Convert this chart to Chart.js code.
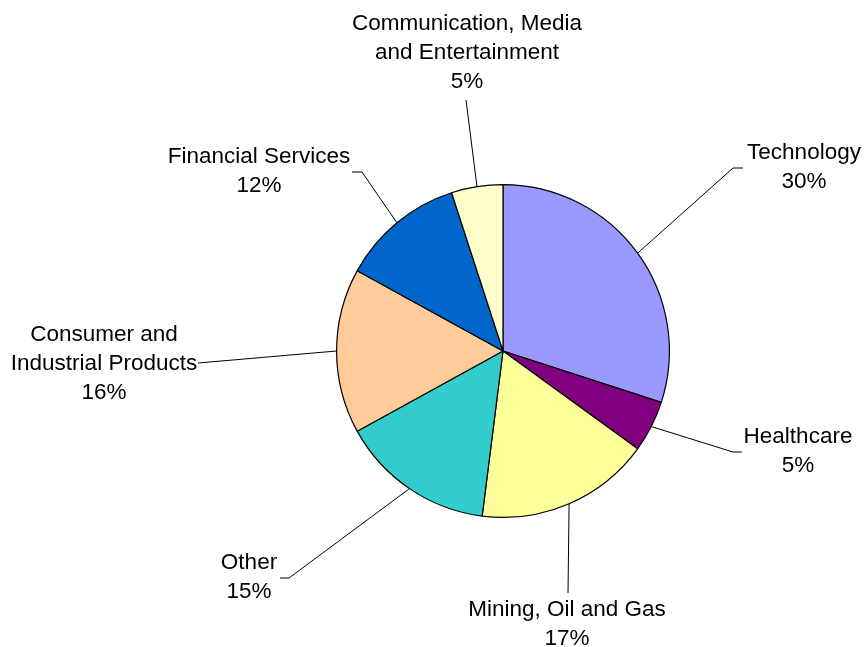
<!DOCTYPE html>
<html>
<head>
<meta charset="utf-8">
<script src="https://cdn.jsdelivr.net/npm/chart.js@4.4.0/dist/chart.umd.min.js"></script>
<style>
  html, body { margin: 0; padding: 0; background: #ffffff; }
  #wrap { width: 866px; height: 647px; }
</style>
</head>
<body>
<div id="wrap"><canvas id="c" width="866" height="647"></canvas></div>
<script>
// Sector breakdown (percent of total)
const categories = [
  'Technology',
  'Healthcare',
  'Mining, Oil and Gas',
  'Other',
  'Consumer and Industrial Products',
  'Financial Services',
  'Communication, Media and Entertainment'
];
const shares = [30, 5, 17, 15, 16, 12, 5];
const labelLines = [
  ['Technology'],
  ['Healthcare'],
  ['Mining, Oil and Gas'],
  ['Other'],
  ['Consumer and', 'Industrial Products'],
  ['Financial Services'],
  ['Communication, Media', 'and Entertainment']
];
const sliceColors = ['#9999FF', '#800080', '#FFFF99', '#33CCCC', '#FFCC99', '#0066CC', '#FFFFCC'];

// Callout layout, offsets from the pie centre:
// elbow = where the leader line bends, tail = end of the short horizontal stub,
// text = centre of the first text line.
const callouts = [
  { elbow: [230, -183], tail: [240, -183], text: [301, -198] },
  { elbow: [230, 101],  tail: [239, 101],  text: [295, 86] },
  { elbow: [65, 242],   tail: null,        text: [64, 259] },
  { elbow: [-214, 227], tail: [-223, 227], text: [-254, 212] },
  { elbow: [-305, 12],  tail: null,        text: [-399, -16] },
  { elbow: [-141, -179], tail: [-151, -179], text: [-244, -194] },
  { elbow: [-37, -251], tail: null,        text: [-36, -327] }
];

const calloutPlugin = {
  id: 'callouts',
  afterDatasetsDraw(chart) {
    const ctx = chart.ctx;
    const meta = chart.getDatasetMeta(0);
    const total = shares.reduce((a, b) => a + b, 0);
    ctx.save();
    ctx.strokeStyle = '#000000';
    ctx.lineWidth = 1;
    ctx.fillStyle = '#000000';
    ctx.font = '22.5px "Liberation Sans", Arial, sans-serif';
    ctx.textAlign = 'center';
    ctx.textBaseline = 'middle';
    meta.data.forEach((arc, i) => {
      const p = arc.getProps(['x', 'y', 'startAngle', 'endAngle', 'outerRadius'], true);
      const mid = (p.startAngle + p.endAngle) / 2;
      const sx = p.x + Math.cos(mid) * p.outerRadius;
      const sy = p.y + Math.sin(mid) * p.outerRadius;
      const c = callouts[i];
      const ex = p.x + c.elbow[0], ey = p.y + c.elbow[1];
      ctx.beginPath();
      ctx.moveTo(sx, sy);
      ctx.lineTo(ex, ey);
      if (c.tail) ctx.lineTo(p.x + c.tail[0], p.y + c.tail[1]);
      ctx.stroke();
      const lines = labelLines[i].concat([Math.round(shares[i] / total * 100) + '%']);
      const tx = p.x + c.text[0];
      let ty = p.y + c.text[1];
      lines.forEach((ln) => {
        ctx.fillText(ln, tx, ty);
        ty += 29;
      });
    });
    ctx.restore();
  }
};

new Chart(document.getElementById('c'), {
  type: 'pie',
  data: {
    labels: categories,
    datasets: [{
      data: shares,
      backgroundColor: sliceColors,
      borderColor: '#000000',
      borderWidth: 1.2
    }]
  },
  options: {
    responsive: false,
    animation: false,
    events: [],
    layout: { padding: { left: 336, right: 196, top: 184, bottom: 129 } },
    plugins: {
      legend: { display: false },
      tooltip: { enabled: false }
    }
  },
  plugins: [calloutPlugin]
});
</script>
</body>
</html>
